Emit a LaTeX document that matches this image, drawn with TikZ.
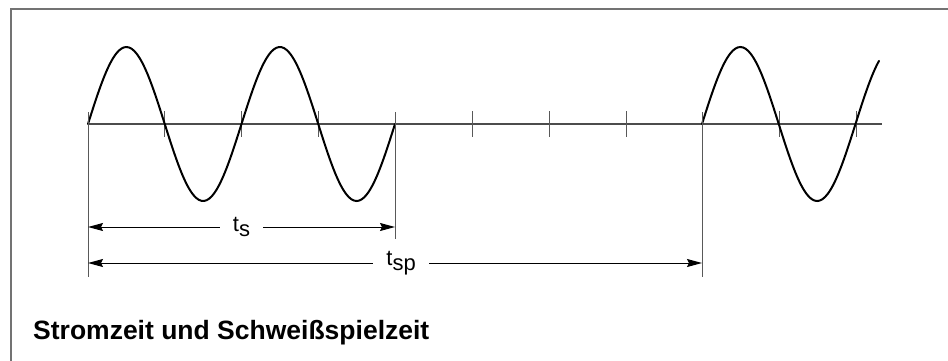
\documentclass[tikz,border=0pt]{standalone}
\usepackage{fontspec}
\setmainfont{Liberation Sans}
\usetikzlibrary{arrows.meta}

\begin{document}
\begin{tikzpicture}[
  x=1pt, y=-1pt,
  frame/.style={draw=black!55, line width=1.6pt},
  axis/.style={draw=black!70, line width=1.2pt},
  helper/.style={draw=black!65, line width=1pt},
  wave/.style={line width=2pt, line cap=round, smooth},
  dim/.style={{Stealth[length=15pt,width=8pt,inset=2pt]}-{Stealth[length=15pt,width=8pt,inset=2pt]}, line width=1pt},
  lbl/.style={fill=white, inner xsep=13pt, inner ysep=2pt, font=\fontsize{22}{26}\selectfont},
  caption/.style={anchor=base west, inner sep=0pt, font=\fontsize{26.5}{30}\selectfont\bfseries}
]
\useasboundingbox (0,0) rectangle (948,360);
\draw[frame] (11,362) -- (11,9) -- (950,9);

% zero line and period marks
\coordinate (ax-l) at (88,124);
\coordinate (ax-r) at (882,124);
\draw[axis] (ax-l) -- (ax-r);
\foreach \tx in {164,241,318,472,549,626,779,856}
  \draw[helper] (\tx,111) -- (\tx,137);

% welding current
\draw[wave] plot[domain=88:395, samples=120] (\x, {124-77*sin((\x-88)/76.75*180)});
\draw[wave] plot[domain=702:879, samples=70] (\x, {124-77*sin((\x-702)/76.75*180)});

% extension lines
\coordinate (e1-t) at (88,112);  \coordinate (e1-b) at (88,277);
\coordinate (e2-t) at (395,112); \coordinate (e2-b) at (395,239);
\coordinate (e3-t) at (702,112); \coordinate (e3-b) at (702,277);
\draw[helper] (e1-t) -- (e1-b);
\draw[helper] (e2-t) -- (e2-b);
\draw[helper] (e3-t) -- (e3-b);

% dimensions
\coordinate (ts-a) at (88,227);  \coordinate (ts-b) at (395,227);
\coordinate (tsp-a) at (88,263); \coordinate (tsp-b) at (702,263);
\draw[dim] (ts-a) -- node[lbl] (ts) {t\raisebox{-5pt}{s}} (ts-b);
\draw[dim] (tsp-a) -- node[lbl, pos=0.51] (tsp) {t\raisebox{-5pt}{sp}} (tsp-b);

\node[caption] (title) at (33,339) {Stromzeit und Schweißspielzeit};
\end{tikzpicture}
\end{document}
